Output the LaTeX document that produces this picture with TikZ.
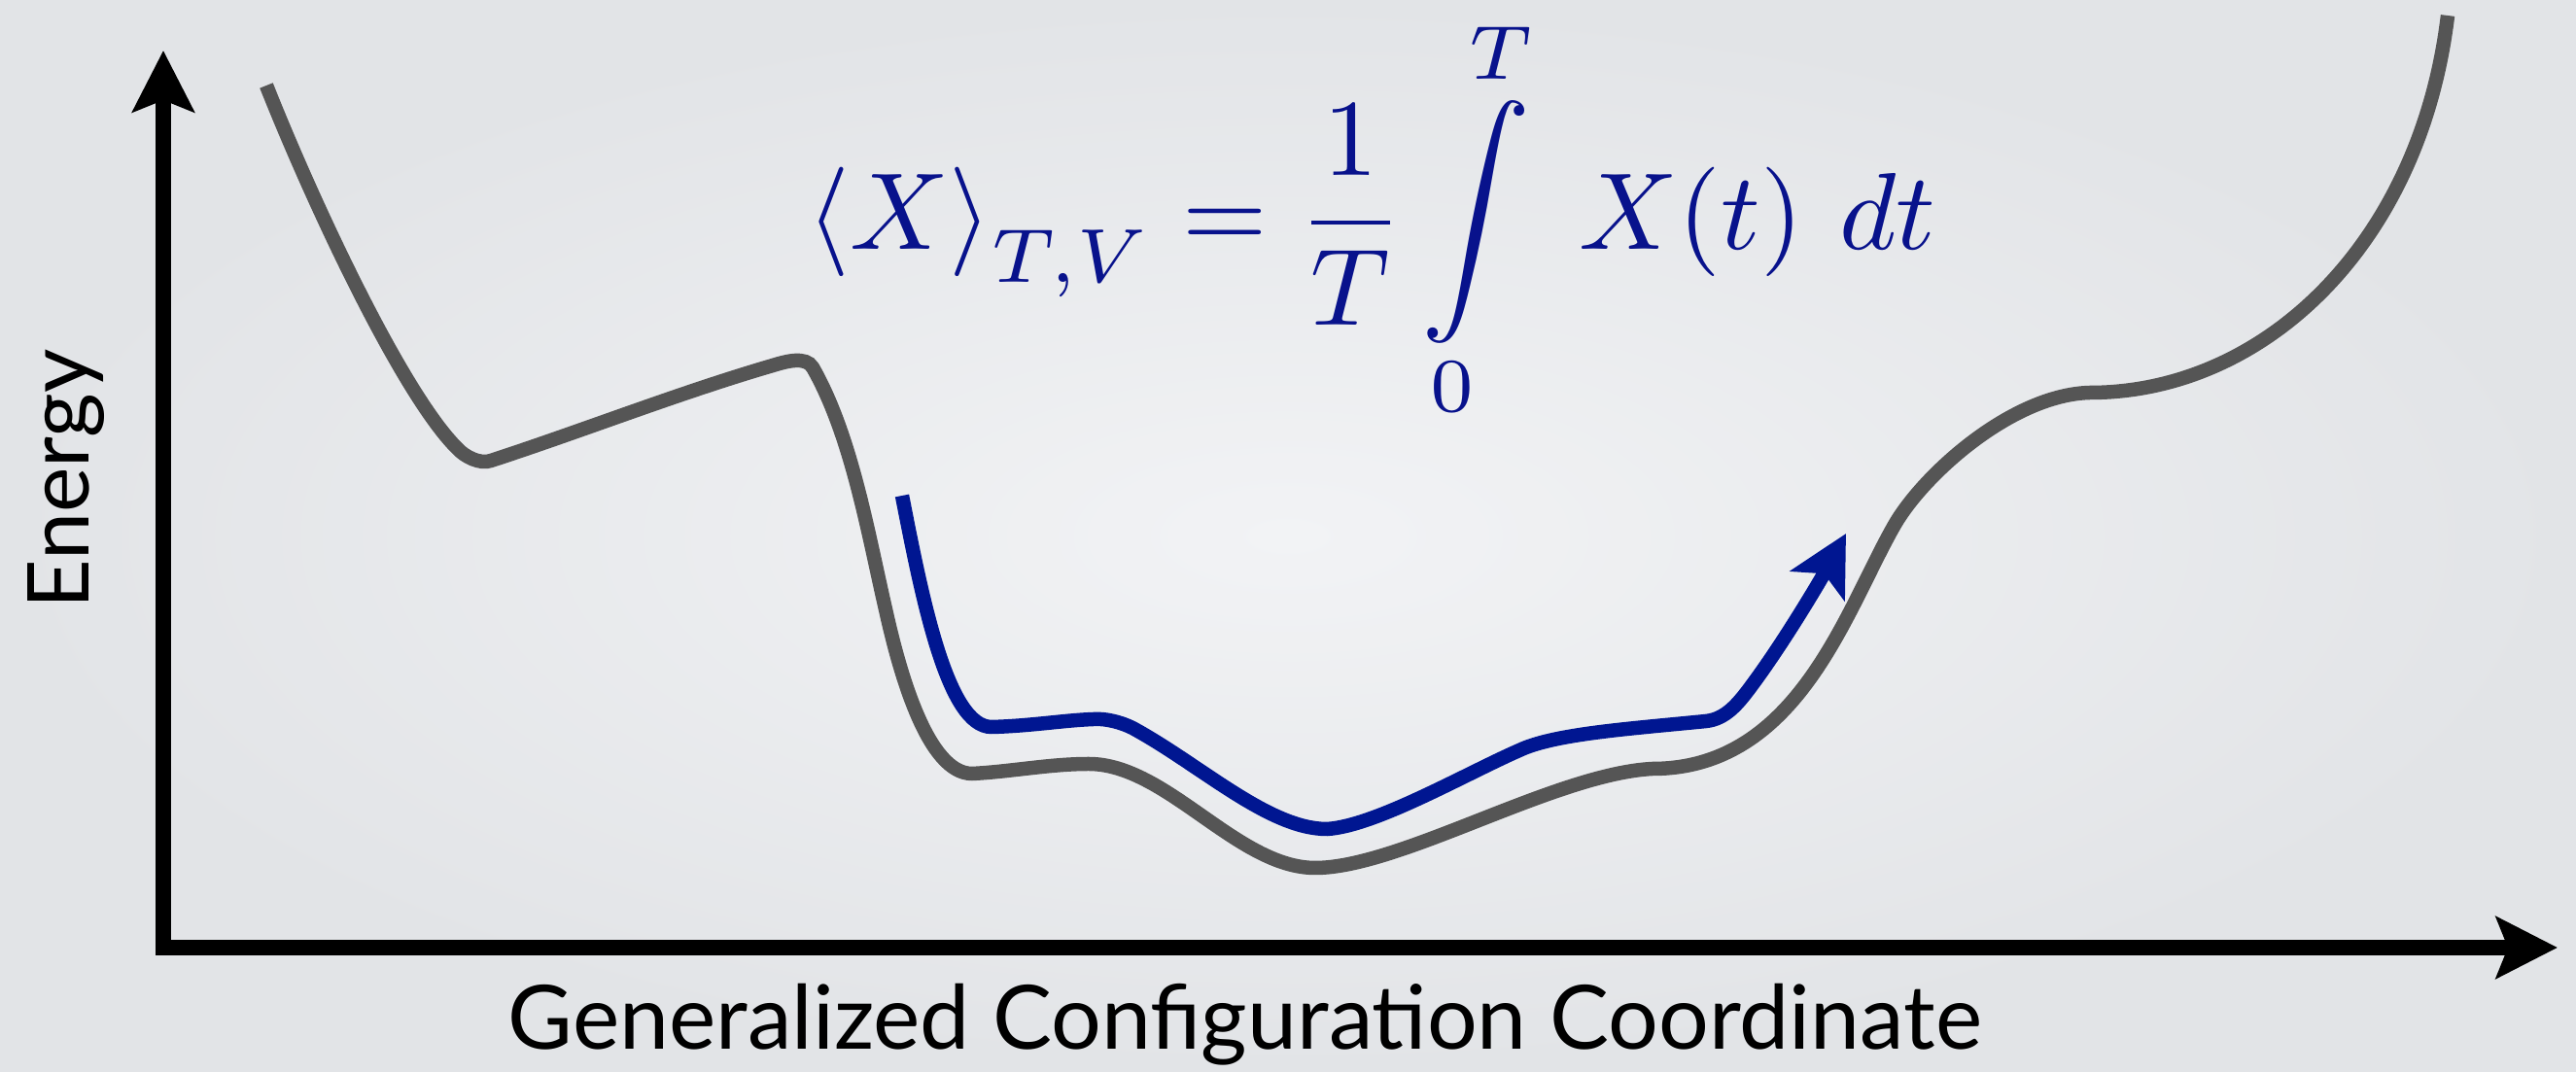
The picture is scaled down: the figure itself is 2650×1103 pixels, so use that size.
\documentclass[tikz,border=0pt]{standalone}
\usepackage{fontspec}
\newfontfamily\labelfont{Lato}
\usetikzlibrary{arrows.meta}
\definecolor{bgcenter}{RGB}{242,243,245}
\definecolor{bgedge}{RGB}{226,228,231}
\definecolor{curvegray}{RGB}{85,85,85}
\definecolor{pathblue}{RGB}{0,22,145}
\definecolor{formulablue}{RGB}{8,18,140}
\tikzset{
    axisarrow/.style={{Stealth[length=6.3mm, width=6.3mm, inset=1.2mm]}-{Stealth[length=6.3mm, width=6.3mm, inset=1.2mm]},
        line width=1.55mm, black},
    energycurve/.style={line width=1.45mm, curvegray},
    pathcurve/.style={line width=1.45mm, pathblue, -{Stealth[length=6.1mm, width=6.3mm, inset=1.4mm]}},
    axislabel/.style={font=\labelfont\fontsize{26}{30}\selectfont, inner sep=0pt}
}

\begin{document}
\begin{tikzpicture}[x=0.1mm, y=-0.1mm]
\useasboundingbox (0,0) rectangle (2650,1103);
\shade[inner color=bgcenter, outer color=bgedge] (0,0) rectangle (2650,1103);
\coordinate (origin) at (168,975);
\coordinate (ytip) at (168,52);
\coordinate (xtip) at (2631,975);
\draw[axisarrow] (ytip) -- (origin) -- (xtip);
% energy landscape
\draw[energycurve] (274,88) .. controls (322,209) and (413,404) .. (470,461)
    .. controls (478,470) and (494,478) .. (505,474)
    .. controls (600,443) and (699,404) .. (795,376)
    .. controls (808,372) and (829,366) .. (836,378)
    .. controls (876,448) and (893,549) .. (911,627)
    .. controls (926,695) and (955,796) .. (1000,796)
    .. controls (1040,794) and (1080,786) .. (1120,786)
    .. controls (1200,786) and (1273,893) .. (1353,893)
    .. controls (1440,893) and (1600,796) .. (1700,791)
    .. controls (1850,791) and (1899,627) .. (1949,540)
    .. controls (1979,488) and (2070,406) .. (2150,404)
    .. controls (2330,404) and (2490,250) .. (2518,16);
% trajectory
\draw[pathcurve] (928,510) .. controls (949,618) and (975,748) .. (1020,748)
    .. controls (1060,747) and (1095,741) .. (1125,740)
    .. controls (1137,739) and (1153,743) .. (1165,749)
    .. controls (1235,787) and (1305,853) .. (1365,853)
    .. controls (1415,850) and (1508,796) .. (1563,772)
    .. controls (1599,755) and (1675,750) .. (1755,742)
    .. controls (1775,740) and (1788,724) .. (1800,708)
    .. controls (1836,660) and (1875,593) .. (1899,549);
\node[axislabel, anchor=base] (xlabel) at (1281,1080) {Generalized Configuration Coordinate};
\node[axislabel, rotate=90, anchor=base, font=\labelfont\fontsize{25}{29}\selectfont] (ylabel) at (92,493) {Energy};
\node[anchor=base west, inner sep=0pt, text=formulablue] (average) at (830,257)
    {\scalebox{3.2}{$\displaystyle \left\langle X\right\rangle_{T,V} = \frac{1}{T}\int\limits_0^T \; X(t)\mkern6mu dt$}};
\end{tikzpicture}
\end{document}
